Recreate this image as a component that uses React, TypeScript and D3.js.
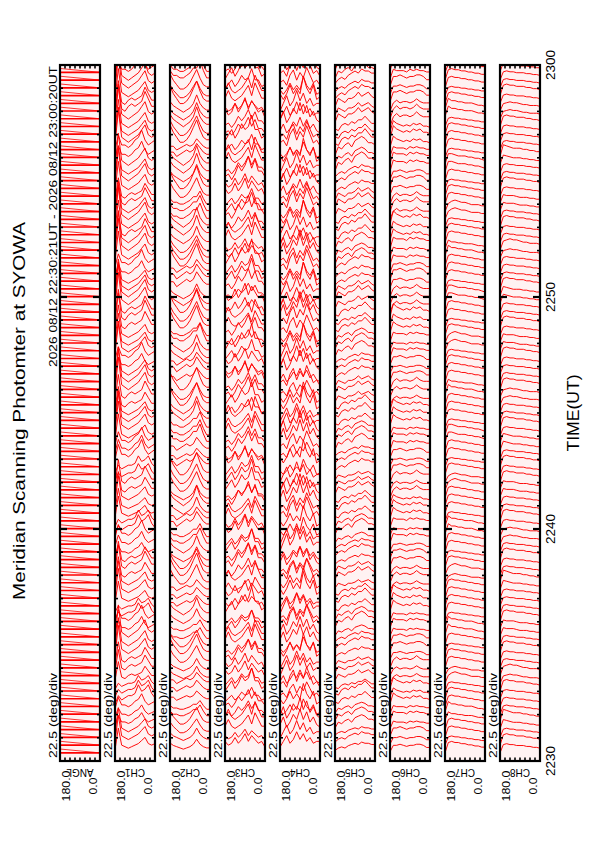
import React from "react";
import * as d3 from "d3";

const channelNames = ["ANGL", "CH1", "CH2", "CH3", "CH4", "CH5", "CH6", "CH7", "CH8"];
const timeTickMinutes = [0, 10, 20, 30];
const timeTickLabels = ["2230", "2240", "2250", "2300"];
const titleText = "Meridian Scanning Photomter at SYOWA";
const periodText = "2026 08/12 22:30:21UT - 2026 08/12 23:00:20UT";
const scaleText = "22.5 (deg)/div";
const axisTitle = "TIME(UT)";
const angleTickLabels = ["180.0", "0.0"];
const angleTicks = [22.5, 45, 67.5, 90, 112.5, 135, 157.5];
const angleSamples = [180, 165, 150, 135, 120, 105, 90, 75, 60, 45, 30, 15, 0];
const scanStartMinute = 21 / 60;
const scanStepMinute = 20 / 60;
const scanCount = 90;

const ch1Profiles = [
  [2, 16, 5, 4, 3, 4, 5, 6, 8, 10, 6, 5, 6],
  [3, 9, 5, 5, 4, 5, 7, 8, 11, 7, 5, 6, 7],
  [1, 5, 3, 4, 5, 5, 6, 10, 7, 8, 10, 6, 4],
  [2, 14, 4, 3, 5, 6, 5, 6, 7, 11, 8, 5, 5],
];
const ch2Profiles = [
  [8, 6, 5, 4, 3, 4, 5, 7, 11, 7, 5, 4, 4],
  [10, 7, 5, 3, 3, 4, 6, 9, 12, 8, 5, 4, 4],
  [7, 5, 5, 4, 4, 5, 6, 8, 8, 11, 7, 4, 4],
  [6, 6, 4, 5, 6, 7, 6, 7, 10, 8, 6, 5, 5],
];
const ch3Profiles = [
  [4, 5, 3, 5, 8, 6, 8, 11, 7, 10, 6, 6, 4],
  [3, 5, 7, 4, 6, 9, 7, 8, 12, 7, 7, 4, 5],
  [6, 4, 5, 8, 5, 7, 10, 6, 9, 7, 5, 6, 3],
  [5, 8, 5, 4, 5, 6, 8, 10, 6, 11, 8, 5, 5],
];
const ch4Profiles = [
  [5, 8, 4, 6, 9, 7, 11, 7, 10, 6, 8, 5, 4],
  [3, 6, 9, 5, 7, 11, 7, 10, 6, 8, 5, 6, 6],
  [6, 4, 6, 9, 6, 8, 6, 12, 8, 6, 9, 4, 5],
  [5, 6, 4, 8, 10, 6, 9, 7, 11, 8, 5, 6, 4],
];
const ch5Profiles = [
  [2, 4, 5, 4, 6, 7, 8, 7, 9, 8, 8, 7, 7],
  [1, 5, 4, 6, 7, 5, 8, 9, 10, 9, 7, 7, 6],
  [3, 2, 5, 6, 5, 7, 6, 8, 8, 10, 8, 6, 6],
  [2, 6, 5, 4, 6, 6, 7, 9, 7, 8, 9, 7, 6],
];
const ch6Profiles = [
  [1, 8, 7, 7, 7, 6, 8, 7, 8, 7, 7, 6, 6],
  [2, 10, 8, 7, 6, 7, 6, 8, 7, 8, 6, 6, 5],
  [0, 6, 8, 6, 7, 7, 6, 7, 9, 7, 6, 6, 6],
  [1, 7, 7, 8, 7, 6, 7, 7, 8, 8, 7, 5, 5],
];
const ch7Profiles = [
  [0, 9, 10, 9, 9, 8, 8, 7, 7, 6, 6, 5, 5],
  [2, 11, 9, 9, 8, 8, 7, 7, 7, 6, 5, 5, 4],
  [0, 7, 9, 10, 9, 8, 8, 7, 6, 6, 6, 5, 5],
  [1, 10, 10, 9, 8, 8, 8, 7, 7, 6, 6, 5, 4],
];
const ch8Profiles = [
  [0, 9, 10, 9, 9, 8, 8, 8, 7, 7, 6, 6, 5],
  [1, 11, 10, 9, 8, 8, 8, 7, 7, 6, 6, 5, 5],
  [0, 8, 9, 10, 9, 9, 8, 7, 7, 6, 6, 6, 5],
  [1, 10, 9, 9, 9, 8, 7, 7, 7, 6, 6, 5, 5],
];

const ch1Shape = "aaabbbcccd ddaaabbcca aadddbbbcc aaaddccbbb aaaaddaaab baaadddaaa abbaaadaaa ddaaaabbaa aaddaaabba";
const ch2Shape = "aabbccddda abbbccaadd dbbbaaccdd aaabbbdddc ccaabbbddd aaccbbbaad ddbbbaaacc cbbaaaddbb aaabbbccaa";
const ch3Shape = "ccddaabbbc caaddbbbcc ddaaabbccd daabbbccaa dddbbaaccc bbaaddccaa bbbccddaab bccaaddbba accddbbaac";
const ch4Shape = "bbaaccddab bccaaddbbc cddaabbccd daabbccdda abbccddaab bccddaabbc cddaabbccd daabbccdda abbccddaab";
const ch5Shape = "aaabbbcccd ddaaabbbcc cdddaaabbb cccdddaaab bbcccdddaa abbbcccddd aaabbbcccd ddaaabbbcc cdddaaabbb";
const ch6Shape = "dddaaabbbc ccdddaaabb bcccdddaaa bbbcccddda aabbbcccdd daaabbbccc dddaaabbbc ccdddaaabb bcccdddaaa";
const ch7Shape = "aaaabbaaac caaaabbaaa aaccaaaabb aaaaccaaaa ddaaaabbaa aaccaaaadd aaaabbaaac caaaaddaaa aabbaaaacc";
const ch8Shape = "aaabbaaaac caaaaddaaa abbaaaacca aaaddaaaab baaaaccaaa aaddaaaabb aaaaccaaaa ddaaaabbaa aaccaaaadd";

const ch1Amp = "5665567655 6677867655 6667656776 5566766877 6776678876 7766787887 6677887787 7678787887 7887788778";
const ch2Amp = "4556545665 5676556766 6787677687 7867787678 7787868787 7786878768 8787678877 6787887687 8778678787";
const ch3Amp = "6578675867 7868775968 6879786978 7968879687 8796887968 7968787968 8797688797 6879788697 7968879786";
const ch4Amp = "6789687968 7968897869 8978698789 8997869789 9879879698 8978998789 7989878979 8797896987 9789789879";
const ch5Amp = "4545545645 5456546556 5465565465 5656546656 6556656566 5665656676 6676566766 7667676776 6767767677";
const ch6Amp = "4454545454 4545545455 5454554545 5545455455 5455545554 5545556555 5655565565 6556566556 5665656566";
const ch7Amp = "5455455545 4554555455 5545545555 4555545455 5545555455 5455545555 4555545545 5554555455 5455545555";
const ch8Amp = "4544544454 5445444544 4454454444 5444454544 4454444544 4544454444 5444454454 4445444544 4544454444";

const channelTable = [
  { profiles: ch1Profiles, shapes: ch1Shape, amps: ch1Amp, unit: 1.55 },
  { profiles: ch2Profiles, shapes: ch2Shape, amps: ch2Amp, unit: 1.55 },
  { profiles: ch3Profiles, shapes: ch3Shape, amps: ch3Amp, unit: 1.6 },
  { profiles: ch4Profiles, shapes: ch4Shape, amps: ch4Amp, unit: 1.6 },
  { profiles: ch5Profiles, shapes: ch5Shape, amps: ch5Amp, unit: 1.5 },
  { profiles: ch6Profiles, shapes: ch6Shape, amps: ch6Amp, unit: 1.35 },
  { profiles: ch7Profiles, shapes: ch7Shape, amps: ch7Amp, unit: 1.15 },
  { profiles: ch8Profiles, shapes: ch8Shape, amps: ch8Amp, unit: 1.15 },
];

const W = 595;
const H = 842;
const panelLeft0 = 60;
const panelPitch = 55;
const panelWidth = 40;
const panelTop = 65;
const panelBottom = 761;
const FONT = "'Liberation Sans', Arial, Helvetica, sans-serif";
const RED = "#ff0000";

const yScale = d3.scaleLinear().domain([0, 30]).range([panelBottom, panelTop]);
const scanTimes = d3.range(scanCount).map((i) => scanStartMinute + i * scanStepMinute);
const minuteTicks = d3.range(1, 30);

function Panel({ p }: { p: number }) {
  const x0 = panelLeft0 + p * panelPitch;
  const xs = d3.scaleLinear().domain([180, 0]).range([x0, x0 + panelWidth]);
  const clipId = `clip-${p}`;
  const line = d3
    .line<[number, number]>()
    .x((d) => d[0])
    .y((d) => d[1]);
  const paths: { d: string; w: number }[] = [];
  if (p === 0) {
    const sp = yScale(0) - yScale(scanStepMinute);
    scanTimes.forEach((t) => {
      const yi = yScale(t);
      paths.push({ d: line([[xs(180), yi], [xs(0), yi]]) || "", w: 1.7 });
      paths.push({ d: line([[xs(0), yi], [xs(180), yi - sp * 0.5]]) || "", w: 0.8 });
    });
  } else {
    const ch = channelTable[p - 1];
    const shapes = ch.shapes.replace(/ /g, "");
    const amps = ch.amps.replace(/ /g, "");
    scanTimes.forEach((t, i) => {
      const yi = yScale(t);
      const prof = ch.profiles[shapes.charCodeAt(i % shapes.length) - 97];
      const a = +amps[i % amps.length] / 5;
      const pts: [number, number][] = angleSamples.map((ang, k) => [xs(ang), yi - prof[k] * a * ch.unit]);
      paths.push({ d: line(pts) || "", w: 0.95 });
    });
  }
  return (
    <g>
      <defs>
        <clipPath id={clipId}>
          <rect x={x0} y={panelTop} width={panelWidth} height={panelBottom - panelTop} />
        </clipPath>
      </defs>
      <rect x={x0} y={panelTop} width={panelWidth} height={panelBottom - panelTop} fill="#fff2f2" />
      <g clipPath={`url(#${clipId})`}>
        {paths.map((pp, i) => (
          <path key={i} d={pp.d} fill="none" stroke={RED} strokeWidth={pp.w} />
        ))}
      </g>
      {minuteTicks.map((m) => {
        const major = m % 10 === 0;
        const len = major ? 7 : 3;
        const yy = yScale(m);
        return (
          <g key={m} stroke="#000" strokeWidth={major ? 2.2 : 1.6}>
            <line x1={x0} x2={x0 + len} y1={yy} y2={yy} />
            <line x1={x0 + panelWidth} x2={x0 + panelWidth - len} y1={yy} y2={yy} />
          </g>
        );
      })}
      {angleTicks.map((a) => (
        <g key={a} stroke="#000" strokeWidth={1.6}>
          <line x1={xs(a)} x2={xs(a)} y1={panelTop} y2={panelTop + 3.5} />
          <line x1={xs(a)} x2={xs(a)} y1={panelBottom} y2={panelBottom - 3.5} />
        </g>
      ))}
      <rect
        x={x0}
        y={panelTop}
        width={panelWidth}
        height={panelBottom - panelTop}
        fill="none"
        stroke="#000"
        strokeWidth={2.2}
      />
      <text
        transform={`translate(${x0 - 3},758) rotate(-90)`}
        fontSize={11.5}
        textLength={85}
        lengthAdjust="spacingAndGlyphs"
        fontFamily={FONT}
        fill="#000"
      >
        {scaleText}
      </text>
      <text
        transform={`translate(${x0 + 20},769) rotate(180)`}
        fontSize={10}
        textAnchor="middle"
        fontFamily={FONT}
        fill="#000"
      >
        {channelNames[p]}
      </text>
      <text
        transform={`translate(${x0 + 10},786) rotate(-90)`}
        fontSize={11}
        textAnchor="middle"
        fontFamily={FONT}
        fill="#000"
        textLength={31}
        lengthAdjust="spacingAndGlyphs"
      >
        {angleTickLabels[0]}
      </text>
      <text
        transform={`translate(${x0 + 37},786) rotate(-90)`}
        fontSize={11}
        textAnchor="middle"
        fontFamily={FONT}
        fill="#000"
        textLength={17}
        lengthAdjust="spacingAndGlyphs"
      >
        {angleTickLabels[1]}
      </text>
    </g>
  );
}

export default function App() {
  return (
    <svg
      width={W}
      height={H}
      viewBox={`0 0 ${W} ${H}`}
      style={{ position: "absolute", left: 0, top: 0, background: "#fff" }}
    >
      <rect x={0} y={0} width={W} height={H} fill="#fff" />
      <text
        transform="translate(25,411) rotate(-90)"
        fontSize={17}
        textAnchor="middle"
        textLength={378}
        lengthAdjust="spacingAndGlyphs"
        fontFamily={FONT}
        fill="#000"
      >
        {titleText}
      </text>
      <text
        transform={`translate(57,${panelTop + 1}) rotate(-90)`}
        fontSize={11.5}
        textAnchor="end"
        textLength={301}
        lengthAdjust="spacingAndGlyphs"
        fontFamily={FONT}
        fill="#000"
      >
        {periodText}
      </text>
      {channelNames.map((_, p) => (
        <Panel key={p} p={p} />
      ))}
      {timeTickMinutes.map((m, i) => (
        <text
          key={m}
          transform={`translate(555,${yScale(m)}) rotate(-90)`}
          fontSize={12}
          textAnchor="middle"
          textLength={30}
          lengthAdjust="spacingAndGlyphs"
          fontFamily={FONT}
          fill="#000"
        >
          {timeTickLabels[i]}
        </text>
      ))}
      <text
        transform="translate(579,413) rotate(-90)"
        fontSize={16}
        textAnchor="middle"
        textLength={77}
        lengthAdjust="spacingAndGlyphs"
        fontFamily={FONT}
        fill="#000"
      >
        {axisTitle}
      </text>
    </svg>
  );
}
